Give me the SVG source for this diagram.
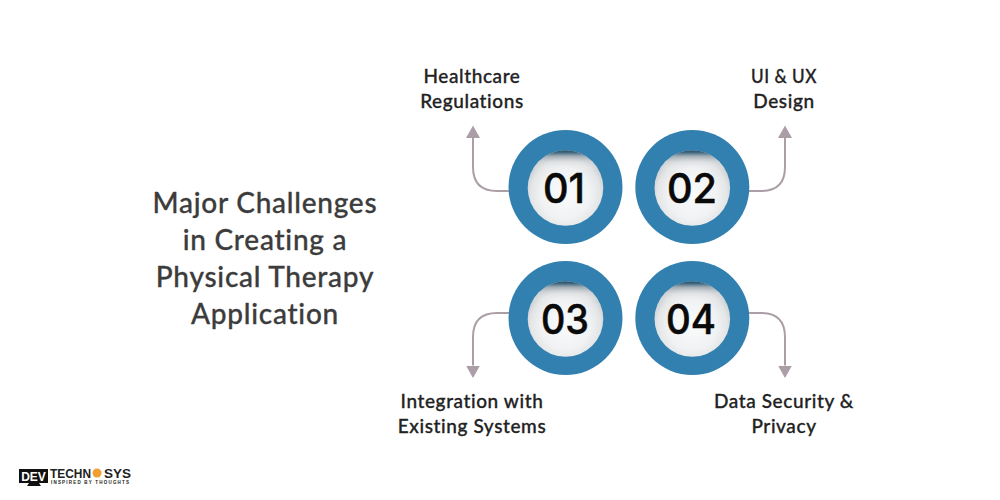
<svg xmlns="http://www.w3.org/2000/svg" width="1000" height="500" viewBox="0 0 1000 500">
<defs>
<radialGradient id="disc" cx="50%" cy="58%" r="54%">
<stop offset="0" stop-color="#fafbfb"/><stop offset="0.6" stop-color="#f1f2f3"/><stop offset="0.85" stop-color="#e3e5e7"/><stop offset="1" stop-color="#cdd1d4"/>
</radialGradient>
<linearGradient id="rim" x1="0" y1="0" x2="0" y2="1">
<stop offset="0" stop-color="#1f4c68"/><stop offset="0.035" stop-color="#3f6780" stop-opacity="0.95"/><stop offset="0.08" stop-color="#8d9ca6" stop-opacity="0.7"/><stop offset="0.16" stop-color="#d5d8da" stop-opacity="0.4"/><stop offset="0.28" stop-color="#fff" stop-opacity="0"/>
</linearGradient>
<marker id="arrow" markerUnits="userSpaceOnUse" markerWidth="14" markerHeight="15" refX="0" refY="7" orient="auto" viewBox="0 0 14 15">
<path d="M0 0 L12.5 7 L0 14 Z" fill="#ab9ea6"/>
</marker>
<style>
.t{font-family:"Lato","Liberation Sans",sans-serif;text-anchor:middle;stroke-linejoin:round}
.title{font-size:28px;font-weight:500;letter-spacing:.75px;fill:#3c3c3c;stroke:#3c3c3c;stroke-width:.3px}
.label{font-size:19px;font-weight:500;letter-spacing:.6px;fill:#222;stroke:#222;stroke-width:.3px}
.num{font-family:"Inter","Liberation Sans",sans-serif;font-size:41px;font-weight:500;fill:#0a0a0a;stroke:#0a0a0a;stroke-width:.5px;text-anchor:middle}
.ring{fill:#3280b0}
.disc{fill:url(#disc)}
.rim{fill:url(#rim)}
.conn{fill:none;stroke:#ab9ea6;stroke-width:2;marker-end:url(#arrow)}
.logo{font-family:"Liberation Sans",sans-serif;font-weight:700;fill:#222}
</style>
</defs>
<rect width="1000" height="500" fill="#fff"/>
<g id="connectors">
<path class="conn" d="M509 191 H497 Q473 191 473 167 V138"/>
<path class="conn" d="M748 191 H761 Q785 191 785 167 V138"/>
<path class="conn" d="M509 313 H497 Q473 313 473 337 V365.5"/>
<path class="conn" d="M749 313 H761 Q785 313 785 337 V365.5"/>
</g>
<g id="title"><text class="t title" x="265" y="213">Major Challenges</text><text class="t title" x="265" y="250">in Creating a</text><text class="t title" x="265" y="287">Physical Therapy</text><text class="t title" x="265" y="324">Application</text></g>
<g id="node-01"><circle class="ring" cx="565.5" cy="187" r="57"/><circle class="disc" cx="565.5" cy="188" r="37.8"/><circle class="rim" cx="565.5" cy="188" r="37.8"/><text class="num" x="564" y="203" textLength="42" lengthAdjust="spacingAndGlyphs">01</text></g>
<g id="node-02"><circle class="ring" cx="692.3" cy="187" r="57"/><circle class="disc" cx="692.3" cy="188" r="37.8"/><circle class="rim" cx="692.3" cy="188" r="37.8"/><text class="num" x="692" y="203" textLength="50" lengthAdjust="spacingAndGlyphs">02</text></g>
<g id="node-03"><circle class="ring" cx="565.5" cy="318" r="57"/><circle class="disc" cx="565.5" cy="319" r="37.8"/><circle class="rim" cx="565.5" cy="319" r="37.8"/><text class="num" x="565" y="334" textLength="48" lengthAdjust="spacingAndGlyphs">03</text></g>
<g id="node-04"><circle class="ring" cx="692.3" cy="318" r="57"/><circle class="disc" cx="692.3" cy="319" r="37.8"/><circle class="rim" cx="692.3" cy="319" r="37.8"/><text class="num" x="691" y="334" textLength="50" lengthAdjust="spacingAndGlyphs">04</text></g>
<g id="label-01"><text class="t label" x="472" y="83">Healthcare</text><text class="t label" x="472" y="108">Regulations</text></g>
<g id="label-02"><text class="t label" x="784" y="83" textLength="66" lengthAdjust="spacingAndGlyphs">UI &amp; UX</text><text class="t label" x="784" y="108">Design</text></g>
<g id="label-03"><text class="t label" x="472" y="408">Integration with</text><text class="t label" x="472" y="433">Existing Systems</text></g>
<g id="label-04"><text class="t label" x="784" y="408">Data Security &amp;</text><text class="t label" x="784" y="433">Privacy</text></g>
<g id="logo">
<rect x="19" y="469" width="29" height="14" fill="#111"/>
<path d="M29 483 H39 L41 486 H27 Z" fill="#111"/>
<text x="33.5" y="481" font-family="Liberation Sans,sans-serif" font-size="12" font-weight="700" fill="#fff" text-anchor="middle">DEV</text>
<text class="logo" x="50" y="478" font-size="12" textLength="41" lengthAdjust="spacingAndGlyphs">TECHN</text>
<circle cx="97" cy="473" r="4.5" fill="#f0a030"/>
<text class="logo" x="104" y="478" font-size="12" textLength="27" lengthAdjust="spacingAndGlyphs">SYS</text>
<text class="logo" x="51" y="483.5" font-size="4.5" textLength="78" lengthAdjust="spacing">INSPIRED BY THOUGHTS</text>
</g>
</svg>
